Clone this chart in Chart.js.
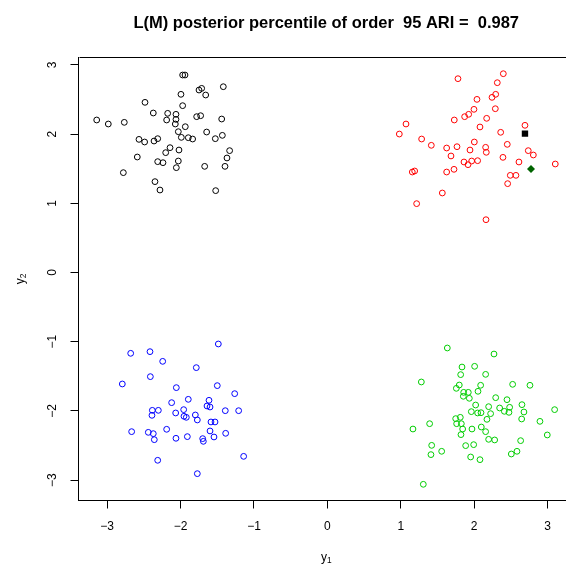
<!DOCTYPE html>
<html>
<head>
<meta charset="utf-8">
<script src="https://cdn.jsdelivr.net/npm/chart.js@4/dist/chart.umd.min.js"></script>
<style>
  html, body { margin: 0; padding: 0; background: #fff; overflow: hidden; }
  canvas { display: block; }
</style>
</head>
<body>
<canvas id="c" width="580" height="569"></canvas>
<script>
// Plot text
const titleText = 'L(M) posterior percentile of order  95 ARI =  0.987';
const xAxisName = ['y', '1'];
const yAxisName = ['y', '2'];

// Axis ticks
const tickValues = [-3, -2, -1, 0, 1, 2, 3];
const tickLabels = ['\u22123', '\u22122', '\u22121', '0', '1', '2', '3'];

// Cluster 1 (black)
const blackX = [-1.972,-1.940,-1.749,-1.713,-1.418,-1.658,-1.995,-2.485,-1.972,-2.372,-2.176,-2.063,-2.190,-2.063,-2.072,-1.781,-1.727,-1.440,-3.143,-2.985,-2.767,-1.936,-2.031,-1.645,-1.431,-1.527,-1.990,-1.895,-1.836,-2.567,-2.490,-2.362,-2.312,-2.144,-2.203,-2.022,-1.332,-1.368,-2.590,-2.312,-2.240,-2.031,-2.058,-1.672,-1.395,-2.780,-2.349,-2.281,-1.522];
const blackY = [2.854,2.854,2.637,2.661,2.685,2.565,2.575,2.459,2.411,2.305,2.300,2.286,2.204,2.213,2.146,2.252,2.266,2.218,2.204,2.146,2.170,2.107,2.035,2.030,1.982,1.934,1.953,1.948,1.929,1.924,1.886,1.900,1.934,1.804,1.732,1.770,1.761,1.655,1.669,1.602,1.587,1.611,1.515,1.534,1.534,1.443,1.313,1.192,1.183];

// Cluster 2 (red)
const redX = [1.779,2.397,2.315,2.293,2.243,2.038,1.997,1.925,1.870,2.288,1.729,2.170,1.071,0.980,2.079,2.692,2.361,1.284,1.416,2.002,1.625,1.766,2.451,1.943,2.156,2.165,2.737,2.806,1.684,2.392,1.861,1.916,1.966,2.047,2.610,3.105,1.157,1.189,1.625,1.725,2.492,2.569,2.456,1.566,1.216,2.161];
const redY = [2.801,2.873,2.743,2.575,2.531,2.502,2.358,2.286,2.252,2.367,2.204,2.228,2.146,2.001,2.103,2.127,2.026,1.929,1.838,1.886,1.799,1.818,1.852,1.770,1.809,1.737,1.761,1.698,1.684,1.664,1.597,1.558,1.611,1.616,1.597,1.568,1.452,1.467,1.452,1.491,1.404,1.404,1.284,1.149,0.995,0.763];

// Cluster 3 (green)
const greenX = [1.634,2.270,1.834,2.006,1.816,2.156,1.280,1.797,1.757,2.088,2.052,1.857,1.920,1.852,1.934,2.524,2.760,2.293,2.447,2.651,2.020,2.197,1.961,2.047,2.093,2.224,2.347,2.411,2.483,2.474,2.678,2.647,3.096,2.896,2.174,1.748,1.811,1.761,1.825,1.843,1.820,1.970,2.097,2.156,1.393,1.166,2.197,2.279,2.996,2.633,1.421,1.411,1.557,1.884,1.993,2.506,2.583,1.952,2.079,1.307];
const greenY = [-1.091,-1.178,-1.366,-1.356,-1.476,-1.472,-1.582,-1.626,-1.674,-1.630,-1.717,-1.732,-1.732,-1.789,-1.818,-1.616,-1.630,-1.809,-1.838,-1.910,-1.915,-1.939,-2.011,-2.030,-2.026,-2.040,-1.958,-2.006,-1.948,-2.021,-2.016,-2.117,-1.982,-2.151,-2.122,-2.112,-2.093,-2.185,-2.185,-2.262,-2.343,-2.262,-2.233,-2.300,-2.185,-2.262,-2.411,-2.420,-2.348,-2.430,-2.498,-2.632,-2.584,-2.502,-2.488,-2.623,-2.584,-2.666,-2.705,-3.061];

// Cluster 4 (blue)
const blueX = [-1.486,-2.680,-2.417,-2.244,-1.786,-2.794,-2.412,-2.058,-1.500,-1.263,-2.122,-1.895,-1.613,-1.640,-1.599,-2.385,-2.303,-2.390,-2.067,-1.958,-1.954,-1.922,-1.799,-1.772,-1.391,-1.209,-1.586,-1.531,-2.667,-2.440,-2.372,-2.358,-2.190,-2.063,-1.908,-1.699,-1.690,-1.599,-1.545,-1.386,-2.312,-1.141,-1.772];
const blueY = [-1.033,-1.168,-1.144,-1.284,-1.375,-1.611,-1.505,-1.664,-1.635,-1.751,-1.881,-1.833,-1.847,-1.929,-1.944,-1.992,-1.992,-2.064,-2.030,-1.982,-2.078,-2.093,-2.059,-2.131,-1.997,-1.997,-2.160,-2.160,-2.300,-2.310,-2.329,-2.416,-2.266,-2.396,-2.372,-2.401,-2.440,-2.290,-2.377,-2.324,-2.714,-2.657,-2.907];

// Highlighted points
const squareX = [2.692];
const squareY = [2.006];
const diamondX = [2.774];
const diamondY = [1.496];

const FONT = '"Liberation Sans", Arial, Helvetica, sans-serif';

function pts(xs, ys) {
  return xs.map((x, i) => ({ x: x, y: ys[i] }));
}

function ring(data, color) {
  return {
    data: data,
    pointStyle: 'circle',
    pointRadius: 2.9,
    pointBorderWidth: 1,
    pointBorderColor: color,
    pointBackgroundColor: 'rgba(0,0,0,0)',
    showLine: false,
    order: 1
  };
}

// Frame, titles and rotated y tick labels
const decorations = {
  id: 'decorations',
  afterDraw(chart) {
    const ctx = chart.ctx;
    const a = chart.chartArea;
    const ys = chart.scales.y;
    const cx = (a.left + a.right) / 2;
    const cy = (a.top + a.bottom) / 2;
    ctx.save();
    ctx.strokeStyle = '#000';
    ctx.lineWidth = 1;
    ctx.beginPath();
    ctx.moveTo(Math.round(a.left) + 0.5, Math.round(a.top) + 0.5);
    ctx.lineTo(Math.round(a.right) + 0.5, Math.round(a.top) + 0.5);
    ctx.lineTo(Math.round(a.right) + 0.5, Math.round(a.bottom) + 0.5);
    ctx.stroke();

    ctx.fillStyle = '#000';
    // main title
    ctx.font = 'bold 16.5px ' + FONT;
    ctx.textAlign = 'center';
    ctx.textBaseline = 'alphabetic';
    ctx.fillText(titleText, cx, 27.5);

    // x axis name with subscript
    ctx.textAlign = 'left';
    ctx.font = '12px ' + FONT;
    const w1 = ctx.measureText(xAxisName[0]).width;
    ctx.font = '8.4px ' + FONT;
    const w2 = ctx.measureText(xAxisName[1]).width;
    let x0 = cx - (w1 + w2) / 2;
    ctx.font = '12px ' + FONT;
    ctx.fillText(xAxisName[0], x0, 561);
    ctx.font = '8.4px ' + FONT;
    ctx.fillText(xAxisName[1], x0 + w1, 563);

    // y axis name, rotated
    ctx.save();
    ctx.translate(24, cy);
    ctx.rotate(-Math.PI / 2);
    ctx.font = '12px ' + FONT;
    const v1 = ctx.measureText(yAxisName[0]).width;
    ctx.font = '8.4px ' + FONT;
    const v2 = ctx.measureText(yAxisName[1]).width;
    x0 = -(v1 + v2) / 2;
    ctx.font = '12px ' + FONT;
    ctx.fillText(yAxisName[0], x0, 0);
    ctx.font = '8.4px ' + FONT;
    ctx.fillText(yAxisName[1], x0 + v1, 2);
    ctx.restore();

    // y tick labels, written along the axis
    ctx.font = '12px ' + FONT;
    ctx.textAlign = 'center';
    ys.ticks.forEach((t) => {
      const py = ys.getPixelForValue(t.value);
      ctx.save();
      ctx.translate(55.5, py);
      ctx.rotate(-Math.PI / 2);
      ctx.fillText(tickLabels[tickValues.indexOf(t.value)], 0, 0);
      ctx.restore();
    });
    ctx.restore();
  }
};

new Chart(document.getElementById('c'), {
  type: 'scatter',
  data: {
    datasets: [
      ring(pts(blackX, blackY), '#000000'),
      ring(pts(redX, redY), '#FF0000'),
      ring(pts(greenX, greenY), '#00CD00'),
      ring(pts(blueX, blueY), '#0000FF'),
      {
        data: pts(squareX, squareY),
        pointStyle: 'rect',
        pointRadius: 4.5,
        pointBorderWidth: 0,
        pointBackgroundColor: '#000000',
        pointBorderColor: '#000000',
        order: 0
      },
      {
        data: pts(diamondX, diamondY),
        pointStyle: 'rectRot',
        pointRadius: 4,
        pointBorderWidth: 0,
        pointBackgroundColor: '#006400',
        pointBorderColor: '#006400',
        order: 0
      }
    ]
  },
  options: {
    responsive: false,
    animation: false,
    events: [],
    layout: { padding: { left: 0, top: 57.3, right: 6, bottom: 0 } },
    plugins: { legend: { display: false }, tooltip: { enabled: false }, title: { display: false } },
    scales: {
      x: {
        type: 'linear',
        position: 'bottom',
        min: -3.391,
        max: 3.36,
        afterBuildTicks: s => { s.ticks = tickValues.map(v => ({ value: v })); },
        afterFit: s => { s.height = 68.5; },
        ticks: {
          color: '#000',
          font: { family: FONT, size: 12 },
          padding: 11,
          maxRotation: 0,
          minRotation: 0,
          autoSkip: false,
          callback: (v, i) => tickLabels[i]
        },
        grid: { drawOnChartArea: false, drawTicks: true, tickLength: 8, tickColor: '#000', color: '#000', lineWidth: 1 },
        border: { display: true, color: '#000', width: 1 }
      },
      y: {
        type: 'linear',
        position: 'left',
        min: -3.295,
        max: 3.110,
        afterBuildTicks: s => { s.ticks = tickValues.map(v => ({ value: v })); },
        afterFit: s => { s.width = 78.5; },
        ticks: { display: false },
        grid: { drawOnChartArea: false, drawTicks: true, tickLength: 8, tickColor: '#000', color: '#000', lineWidth: 1 },
        border: { display: true, color: '#000', width: 1 }
      }
    }
  },
  plugins: [decorations]
});
</script>
</body>
</html>
